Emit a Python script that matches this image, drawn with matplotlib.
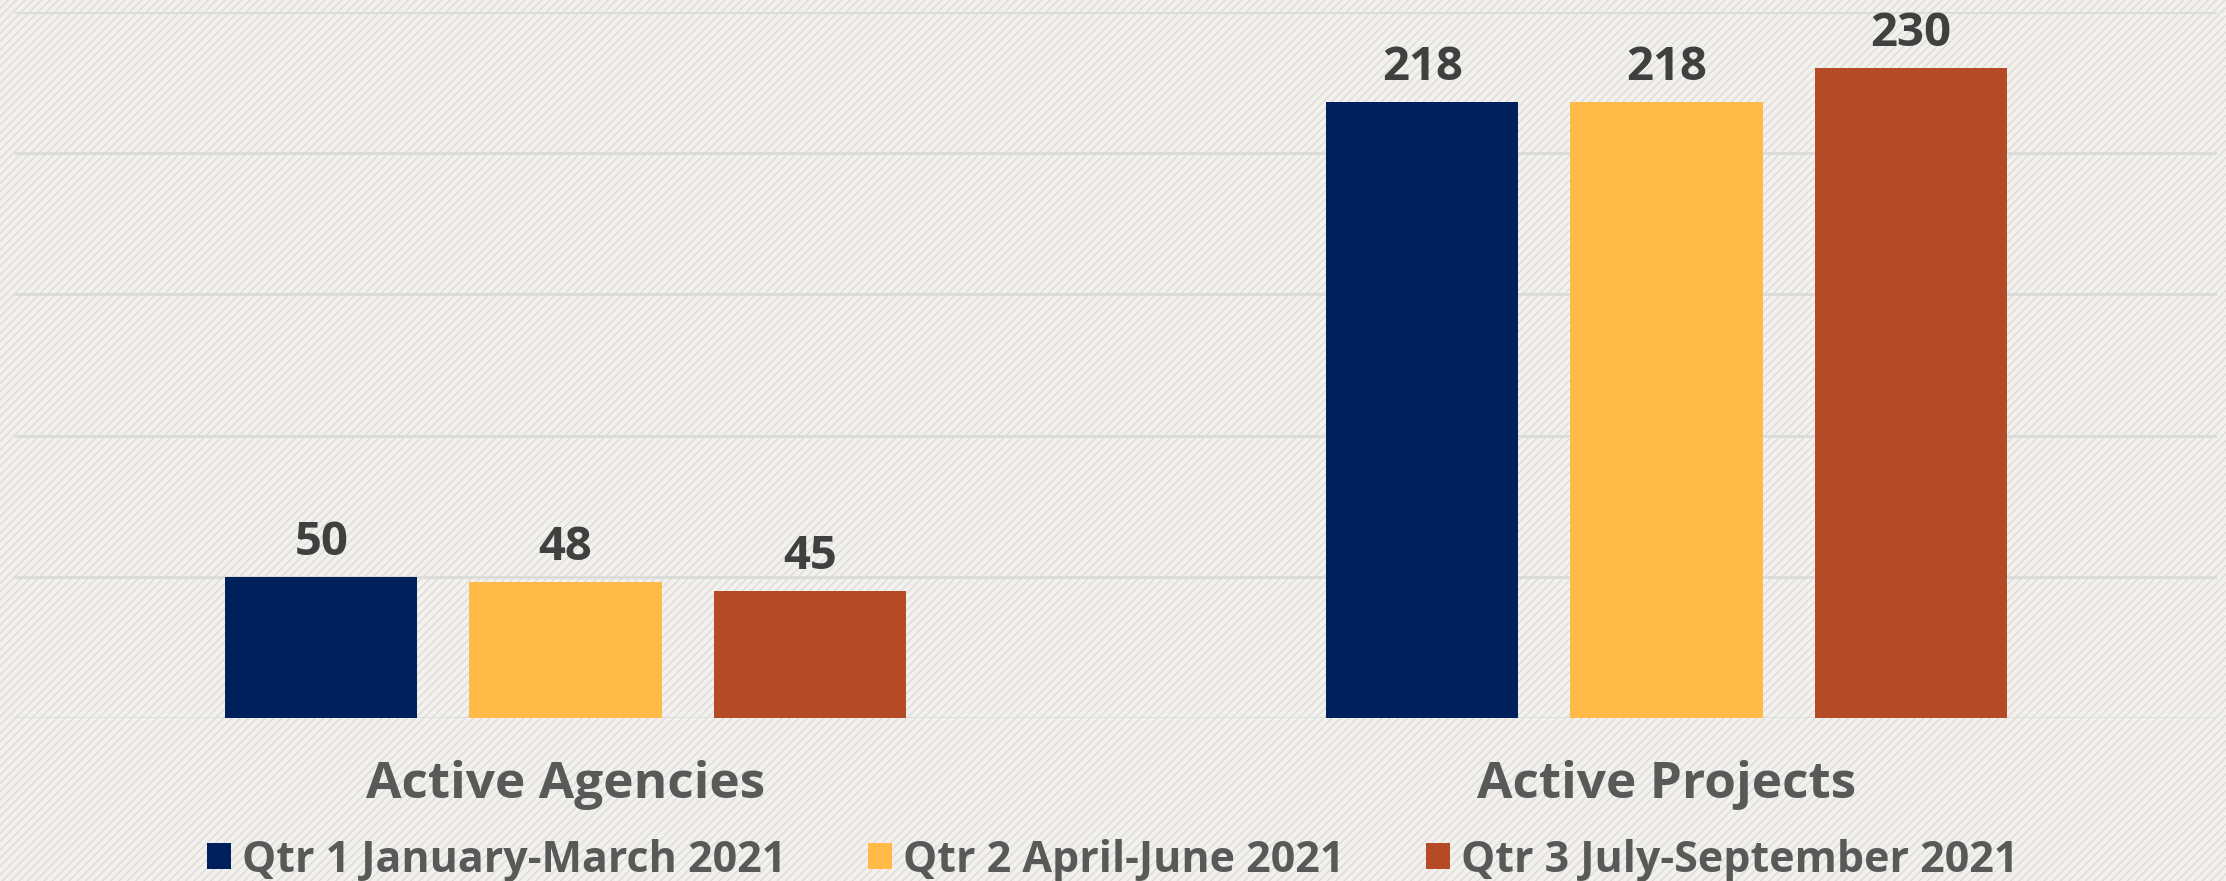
import matplotlib
matplotlib.use("Agg")
import matplotlib.pyplot as plt
from matplotlib.patches import Rectangle
import numpy as np

categories = ["Active Agencies", "Active Projects"]
series_names = ["Qtr 1 January-March 2021", "Qtr 2 April-June 2021", "Qtr 3 July-September 2021"]
q1_values = [50, 218]
q2_values = [48, 218]
q3_values = [45, 230]
series_colors = ["#00205B", "#FFBA48", "#B54A26"]
y_ticks = [0, 50, 100, 150, 200, 250]

plt.rcParams['font.family'] = ['Open Sans', 'DejaVu Sans']
plt.rcParams['hatch.linewidth'] = 1.0

W, H = 2226, 881
fig = plt.figure(figsize=(W / 100, H / 100), dpi=100)
fig.patch.set_facecolor("#F2F1ED")
fig.patches.append(Rectangle((0, 0), 1, 1, transform=fig.transFigure, fill=False,
                             hatch='////', edgecolor="#DDDCD6", lw=0, zorder=-10))

ax = fig.add_axes([15 / W, (H - 718) / H, (2217 - 15) / W, (718 - 12) / H])
ax.set_facecolor("none")

x = np.arange(len(categories))
width = 0.1745
step = 0.2218
all_values = [q1_values, q2_values, q3_values]
for i, (vals, name, col) in enumerate(zip(all_values, series_names, series_colors)):
    bars = ax.bar(x + (i - 1) * step, vals, width, color=col, label=name, zorder=3)
    ax.bar_label(bars, padding=8, fontsize=34, fontweight='bold', color="#404040")

ax.set_xlim(-0.5, 1.5)
ax.set_ylim(0, 250)
ax.set_yticks(y_ticks)
ax.yaxis.grid(True, color="#DADADA", lw=1.8, zorder=0)
ax.set_axisbelow(True)
ax.tick_params(axis='y', left=False, labelleft=False)
ax.set_xticks(x)
ax.set_xticklabels(categories, fontsize=37, fontweight='bold', color="#595959")
ax.tick_params(axis='x', length=0, pad=30)
for s in ax.spines.values():
    s.set_visible(False)

leg = fig.legend(loc='center', bbox_to_anchor=(0.5, (H - 860) / H), ncol=3,
                 frameon=False, fontsize=31, handlelength=0.55, handleheight=0.55,
                 handletextpad=0.26, columnspacing=1.9, borderpad=0, borderaxespad=0)
for t in leg.get_texts():
    t.set_color("#595959")
    t.set_fontweight('bold')

fig.savefig("out.png", dpi=100, facecolor=fig.get_facecolor())
